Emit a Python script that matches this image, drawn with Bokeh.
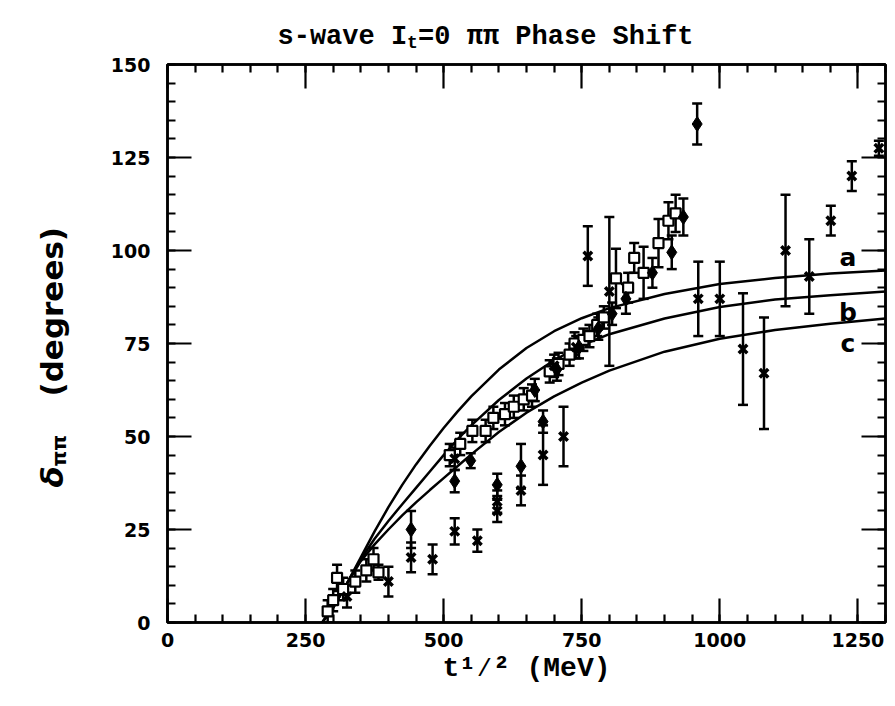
from bokeh.plotting import figure
from bokeh.layouts import column, row
from bokeh.models import (ColumnDataSource, Whisker, TeeHead, LinearAxis,
                          SingleIntervalTicker, CustomJSTickFormatter, Label)
from bokeh.embed import file_html
from bokeh.resources import INLINE
import math

# ---------------- data ----------------
# curves a, b, c
curve_x = [280, 300, 325, 350, 375, 400, 425, 450, 475, 500, 525, 550, 600, 650, 700, 750, 800, 900, 1000, 1100, 1200, 1300]
curve_a = [0, 4, 10.5, 17.5, 24.5, 31, 37, 42.5, 47.5, 52.3, 56.7, 60.8, 68, 73.8, 78.3, 81.8, 84.5, 88.3, 91, 92.6, 93.8, 94.6]
curve_b = [0, 4, 10.5, 17, 22.5, 27.3, 31.8, 36.2, 40.6, 45, 49.2, 53, 59.8, 65.6, 70.5, 74.5, 77.5, 81.7, 84.8, 86.8, 88, 89]
curve_c = [0, 4, 10.5, 16.5, 21, 25, 28.8, 32.3, 35.6, 38.8, 42, 45.2, 51.2, 56.4, 60.8, 64.5, 67.7, 72.8, 76.3, 78.6, 80.3, 81.7]

# x (bow-tie) markers
cross_x = [325, 400, 441, 480, 520, 520, 561, 597, 597, 640, 680, 700, 717, 740, 761, 800,
           961, 1000, 1042, 1080, 1119, 1162, 1201, 1239, 1288]
cross_y = [7, 11, 17.5, 17, 24.5, 44, 22, 30, 32.5, 35.5, 45, 69, 50, 74, 98.5, 89,
           87, 87, 73.5, 67, 100, 93, 108, 120, 127.5]
cross_e = [3, 4, 4, 4, 3.5, 3, 3, 3, 3, 4, 8, 3, 8, 3, 8, 20,
           10, 10, 15, 15, 15, 10, 4, 4, 2]

# filled diamonds
diam_x = [441, 520, 549, 597, 640, 665, 680, 705, 745, 780, 805, 830, 878, 913, 934, 959]
diam_y = [25, 38, 43.5, 37, 42, 62.5, 54, 68, 74, 79, 83, 87, 94, 99.5, 109, 134]
diam_e = [5, 3, 2, 3, 6, 3, 3, 3, 3, 3, 3, 4, 4, 4.5, 5, 5.5]

# open squares
sq_x = [290, 300, 307, 318, 340, 360, 373, 382, 511, 530, 552, 576, 590, 611, 627, 645,
        660, 692, 708, 728, 737, 753, 764, 778, 790, 812, 834, 845, 862, 889, 907, 920]
sq_y = [3, 6, 12, 9, 11, 14, 17, 13.5, 45, 48, 51.5, 51.5, 55, 56, 58, 60,
        61, 67.5, 69.5, 72, 75, 76, 77, 80, 82, 92.5, 90, 98, 94, 102, 108, 110]
sq_e = [3, 3, 3.5, 3, 3, 3, 3, 2, 3, 3, 3, 3, 3, 3, 3, 3,
        3, 3, 3, 3, 3, 3, 3, 3, 3, 8, 4, 4, 7, 6.5, 5, 5]

curve_names = ["a", "b", "c"]
curve_label_x = [1232, 1232, 1232]
curve_label_y = [98, 83.3, 75]

x_ticks_interval = 250
y_ticks_interval = 25

title_main = "s-wave I"
title_sub = "t"
title_rest = "=0 ππ Phase Shift"
xlabel_text = "t¹⁄² (MeV)"
ylabel_main = "δ"
ylabel_sub = "ππ"
ylabel_rest = "(degrees)"

# ---------------- layout sizes ----------------
TOTAL_W = 887
TITLE_H = 51
BODY_H = 690 - TITLE_H
YLAB_W = 70
MAIN_W = TOTAL_W - YLAB_W

mono = "Liberation Mono"


def text_fig(w, h):
    f = figure(width=w, height=h, x_range=(0, w), y_range=(0, h), output_backend="svg",
               toolbar_location=None, title=None, x_axis_type=None, y_axis_type=None,
               min_border=0, frame_align=False)
    f.min_border_left = 0
    f.min_border_right = 0
    f.min_border_top = 0
    f.min_border_bottom = 0
    f.outline_line_color = None
    f.xgrid.visible = False
    f.ygrid.visible = False
    f.background_fill_color = "white"
    f.border_fill_color = "white"
    return f


def add_text(f, x, y, text, font, size, style="bold", angle=0.0):
    f.add_layout(Label(x=x, y=y, text=text, text_font=font, text_font_size=f"{size}px",
                       text_font_style=style, text_baseline="alphabetic", text_align="left",
                       text_color="black", angle=angle))


# ---- title strip (page y -> data y = TITLE_H - page y) ----
tf = text_fig(TOTAL_W, TITLE_H)
tfs = 27
cw = 0.6 * tfs
x0 = 277
add_text(tf, x0, TITLE_H - 36, title_main, mono, tfs)
add_text(tf, x0 + 8 * cw, TITLE_H - 42, title_sub, mono, 18)
add_text(tf, x0 + 8 * cw + 11, TITLE_H - 36, title_rest, mono, tfs)

# ---- y label strip (page y -> data y = 690 - page y) ----
yf = text_fig(YLAB_W, BODY_H)
yb = 51
add_text(yf, yb, 690 - 487, ylabel_main, "DejaVu Sans", 31, "bold italic", math.pi / 2)
add_text(yf, yb + 7, 690 - 466, ylabel_sub, "DejaVu Sans", 20, "bold", math.pi / 2)
add_text(yf, yb, 690 - 396, ylabel_rest, "DejaVu Sans", 31, "bold", math.pi / 2)

# ---------------- main figure ----------------
p = figure(width=MAIN_W, height=BODY_H, x_range=(0, 1300), y_range=(0, 150),
           output_backend="svg", toolbar_location=None, title=None, frame_align=False,
           min_border_left=167 - YLAB_W, min_border_right=2,
           min_border_top=64 - TITLE_H, min_border_bottom=BODY_H - (622 - TITLE_H))
p.xgrid.visible = False
p.ygrid.visible = False
p.outline_line_color = "black"
p.outline_line_width = 2.5
p.background_fill_color = "white"
p.border_fill_color = "white"

p.xaxis.ticker = SingleIntervalTicker(interval=x_ticks_interval, num_minor_ticks=5)
p.yaxis.ticker = SingleIntervalTicker(interval=y_ticks_interval, num_minor_ticks=5)


def style_axis(ax):
    ax.axis_line_width = 2.5
    ax.major_tick_in = 24
    ax.major_tick_out = 0
    ax.minor_tick_in = 8
    ax.minor_tick_out = 0
    ax.major_tick_line_width = 2.2
    ax.minor_tick_line_width = 2.2
    ax.major_label_text_font = "DejaVu Sans"
    ax.major_label_text_font_style = "bold"
    ax.major_label_text_font_size = "19px"
    ax.major_label_text_color = "black"


for ax in (p.xaxis[0], p.yaxis[0]):
    style_axis(ax)
p.xaxis.major_label_standoff = 10
p.yaxis.major_label_standoff = 17

p.xaxis.axis_label = xlabel_text
p.xaxis.axis_label_text_font = mono
p.xaxis.axis_label_text_font_size = "28px"
p.xaxis.axis_label_text_font_style = "bold"
p.xaxis.axis_label_text_color = "black"
p.xaxis.axis_label_standoff = 3

blank = CustomJSTickFormatter(code="return ''")
right_ax = LinearAxis(ticker=SingleIntervalTicker(interval=y_ticks_interval, num_minor_ticks=5),
                      formatter=blank, major_label_standoff=0)
top_ax = LinearAxis(ticker=SingleIntervalTicker(interval=x_ticks_interval, num_minor_ticks=5),
                    formatter=blank, major_label_standoff=0)
style_axis(right_ax)
style_axis(top_ax)
right_ax.major_label_text_font_size = "1px"
top_ax.major_label_text_font_size = "1px"
p.add_layout(right_ax, "right")
p.add_layout(top_ax, "above")

# curves
for cy in (curve_a, curve_b, curve_c):
    p.line(curve_x, cy, line_color="black", line_width=2.5)


def add_series(xs, ys, es):
    src = ColumnDataSource(dict(x=xs, y=ys,
                                lo=[y - e for y, e in zip(ys, es)],
                                hi=[y + e for y, e in zip(ys, es)]))
    w = Whisker(source=src, base="x", lower="lo", upper="hi",
                line_color="black", line_width=2.5,
                upper_head=TeeHead(size=10, line_width=2.5, line_color="black"),
                lower_head=TeeHead(size=10, line_width=2.5, line_color="black"))
    p.add_layout(w)
    return src


s_src = add_series(sq_x, sq_y, sq_e)
d_src = add_series(diam_x, diam_y, diam_e)
c_src = add_series(cross_x, cross_y, cross_e)

p.scatter("x", "y", source=s_src, marker="square", size=10, fill_color="white",
          line_color="black", line_width=2.2)
p.scatter("x", "y", source=d_src, marker="diamond", size=15, fill_color="black",
          line_color="black")
p.scatter("x", "y", source=c_src, marker="x", size=12, line_color="black", line_width=3.5)

# curve labels
for nm, lx, ly in zip(curve_names, curve_label_x, curve_label_y):
    p.add_layout(Label(x=lx, y=ly, text=nm, text_font="DejaVu Sans", text_font_style="bold",
                       text_font_size="25px", text_align="center", text_baseline="middle",
                       text_color="black"))

layout = column(tf, row(yf, p))
open("out.html", "w").write(file_html(layout, INLINE))
